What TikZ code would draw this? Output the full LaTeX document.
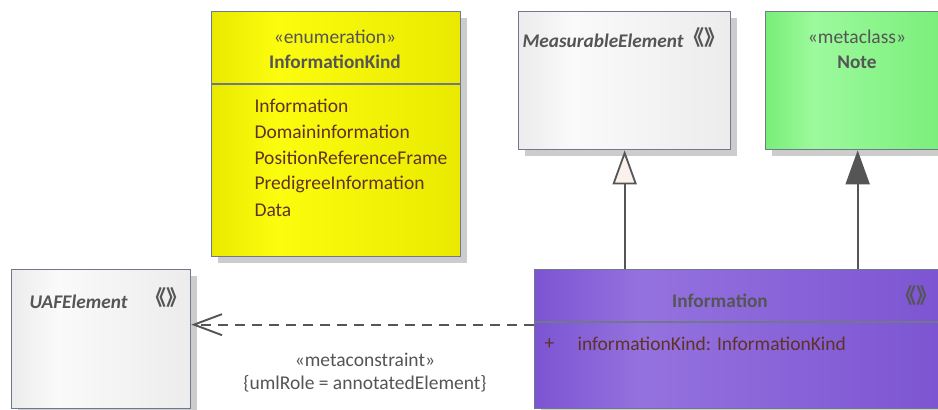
\documentclass[tikz,border=0pt]{standalone}
\usepackage{fontspec}
\setmainfont{Carlito}
\newfontfamily\cjk{Noto Sans CJK SC}
\usetikzlibrary{arrows.meta,shadows}
\definecolor{ink}{RGB}{85,85,85}
\definecolor{frame}{RGB}{112,120,142}
\definecolor{litink}{RGB}{95,50,40}
\definecolor{shade}{RGB}{204,204,204}
\definecolor{yelA}{RGB}{234,234,0}
\definecolor{yelB}{RGB}{252,252,14}
\definecolor{greyA}{RGB}{236,236,236}
\definecolor{greyB}{RGB}{250,250,250}
\definecolor{greenA}{RGB}{120,238,120}
\definecolor{greenB}{RGB}{156,250,156}
\definecolor{purpA}{RGB}{124,84,210}
\definecolor{purpB}{RGB}{148,114,222}
\definecolor{tipfill}{RGB}{250,240,236}
\pgfdeclarehorizontalshading{enumShade}{100bp}{color(0bp)=(yelA); color(25bp)=(yelA); color(38bp)=(yelB); color(75bp)=(yelA); color(100bp)=(yelA)}
\pgfdeclarehorizontalshading{plainShade}{100bp}{color(0bp)=(greyA); color(25bp)=(greyA); color(38bp)=(greyB); color(75bp)=(greyA); color(100bp)=(greyA)}
\pgfdeclarehorizontalshading{metaShade}{100bp}{color(0bp)=(greenA); color(25bp)=(greenA); color(38bp)=(greenB); color(75bp)=(greenA); color(100bp)=(greenA)}
\pgfdeclarehorizontalshading{stereoShade}{100bp}{color(0bp)=(purpA); color(25bp)=(purpA); color(38bp)=(purpB); color(75bp)=(purpA); color(100bp)=(purpA)}
\tikzset{
  classBox/.style={draw=frame, line width=1.3pt, anchor=north west, inner sep=0pt,
    drop shadow={shadow xshift=6pt, shadow yshift=-6pt, fill=shade, opacity=1}},
  enumBox/.style={classBox, shading=enumShade},
  plainBox/.style={classBox, shading=plainShade},
  metaBox/.style={classBox, shading=metaShade},
  stereoBox/.style={classBox, shading=stereoShade},
  divider/.style={draw=frame, line width=1.3pt},
  stereoText/.style={font=\fontsize{19.5}{21}\selectfont, text=ink},
  classTitle/.style={font=\fontsize{19.3}{21}\selectfont\bfseries, text=ink},
  abstractTitle/.style={font=\fontsize{19.3}{21}\selectfont\bfseries\itshape, text=ink, anchor=west},
  litText/.style={font=\fontsize{19.5}{21}\selectfont, text=litink, anchor=west},
  guillemets/.style={font=\cjk\bfseries\fontsize{21}{22}\selectfont, text=ink, inner sep=0pt},
  genArrow/.style={-{Triangle[length=34pt, width=24pt, fill=tipfill]}, line width=1.8pt, draw=ink},
  extArrow/.style={-{Triangle[length=34pt, width=24pt, fill=ink]}, line width=1.8pt, draw=ink},
  depArrow/.style={-{Straight Barb[length=28pt, width=21pt]}, line width=1.9pt, draw=ink,
    dash pattern=on 10pt off 7pt}
}
\begin{document}
\begin{tikzpicture}[x=1pt,y=-1pt]
\useasboundingbox (0,0) rectangle (938,410);
\fill[white] (0,0) rectangle (938,410);
\clip (0,0) rectangle (938,410);

% Enumeration
\node[enumBox, minimum width=249pt, minimum height=245pt] (kind) at (211,11) {};
\draw[divider] (kind.west |- 0,84) -- (kind.east |- 0,84);
\node[stereoText] (kindSt) at (335,37) {«enumeration»};
\node[classTitle] (kindName) at (335,62) {InformationKind};
\foreach \txt [count=\i] in {Information,Domaininformation,PositionReferenceFrame,PredigreeInformation,Data}
  \node[litText] (lit\i) at (251,80+26*\i) {\txt};

% Top classes
\node[plainBox, minimum width=212pt, minimum height=138pt] (meas) at (518,11) {};
\node[abstractTitle] (measName) at (519,41) {MeasurableElement};
\node[guillemets] (measG) at (704,38) {《》};

\node[metaBox, minimum width=184pt, minimum height=138pt] (note) at (765,11) {};
\node[stereoText] (noteSt) at (857,37) {«metaclass»};
\node[classTitle] (noteName) at (857,62) {Note};

% Bottom classes
\node[plainBox, minimum width=179pt, minimum height=139pt] (uaf) at (11,269) {};
\node[abstractTitle] (uafName) at (26,302) {UAFElement};
\node[guillemets] (uafG) at (166,298) {《》};

\node[stereoBox, minimum width=411pt, minimum height=139pt] (info) at (534,269) {};
\draw[divider] (info.west |- 0,322) -- (info.east |- 0,322);
\node[classTitle] (infoName) at (720,301) {Information};
\node[guillemets] (infoG) at (916,296) {《》};
\node[litText] (attrVis) at (541,344) {+};
\node[litText] (attr) at (574,344) {informationKind: InformationKind};

% Connectors
\draw[genArrow] (info.north -| meas.south) -- (meas.south);
\draw[extArrow] (info.north -| note.south) -- (note.south);
\draw[depArrow] ([yshift=14.5pt]info.west) -- ([yshift=14.5pt]uaf.east);
\node[stereoText] (depSt) at (365,360) {«metaconstraint»};
\node[stereoText] (depRole) at (365,384) {\{umlRole = annotatedElement\}};

\end{tikzpicture}
\end{document}
